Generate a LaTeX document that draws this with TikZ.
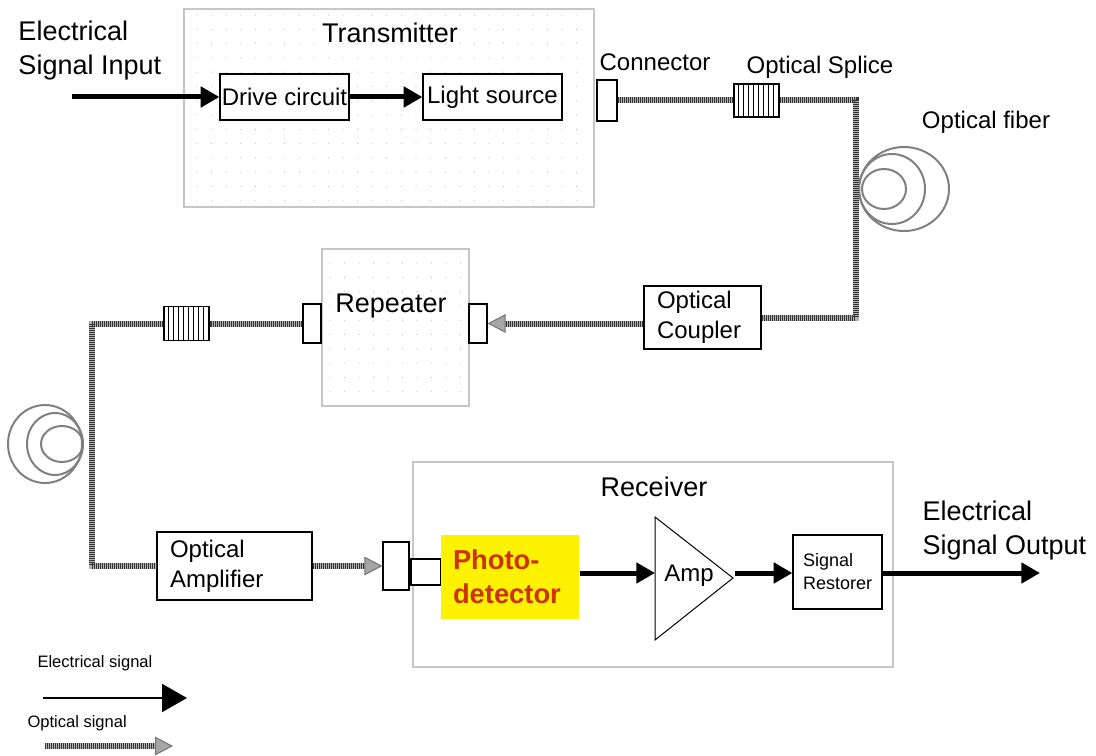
\documentclass[tikz,border=0pt]{standalone}
\usepackage{fontspec}
\setmainfont{Liberation Sans}
\usetikzlibrary{arrows.meta}
\definecolor{pdred}{RGB}{204,51,0}
\tikzset{every picture/.style={line width=0.75pt}}
\tikzset{
  frame/.style={draw=gray!45, line width=1.1pt, inner sep=0},
  blk/.style={draw, fill=white, inner sep=0, line width=0.9pt},
  big/.style={font=\fontsize{20.25}{25.5}\selectfont},
  mid/.style={font=\fontsize{18}{22.5}\selectfont},
  fiber/.style={draw=gray!60, line width=4.5pt, postaction={draw=black!80, line width=4.5pt, dash pattern=on 0.75pt off 0.75pt}},
  optarrow/.style={draw=gray!60, line width=4.5pt, -{Triangle[length=13.5pt,width=14pt,line width=0.75pt,color=black!55,fill=gray!70]}, postaction={draw=black!80, line width=4.5pt, dash pattern=on 0.75pt off 0.75pt, arrows=-, shorten >=13.5pt}},
  elarrow/.style={line width=3.75pt, -{Triangle[length=14pt,width=15pt]}},
  coil/.style={draw=gray, line width=1.5pt},
}

\begin{document}
\begin{tikzpicture}[x=0.75pt,y=0.75pt,yscale=-1,xscale=1]
\useasboundingbox (0,0) rectangle (1096,756);

%Frames
\node[frame, minimum width=307.5pt, minimum height=148.5pt] (tx) at (389,108) {};
\node[frame, minimum width=110.25pt, minimum height=117.75pt] (rep) at (395.5,327.5) {};
\node[frame, minimum width=360pt, minimum height=153.75pt] (rx) at (653,564.5) {};
%Dot grids
\foreach \x in {197,211.6,...,590} \foreach \y in {15,29.3,...,204} \fill[gray!55] (\x,\y) circle (0.6);
\foreach \x in {330,344.5,...,466} \foreach \y in {263,277.3,...,404} \fill[gray!55] (\x,\y) circle (0.6);

%Fiber coils
\draw[coil] (904,189) ellipse [x radius=45, y radius=42];
\draw[coil] (892,189) ellipse [x radius=33, y radius=35];
\draw[coil] (884,189) ellipse [x radius=22, y radius=20];
\draw[coil] (45,444) ellipse [x radius=37, y radius=39];
\draw[coil] (55,444) ellipse [x radius=28, y radius=31];
\draw[coil] (62,444) ellipse [x radius=21, y radius=18];

%Blocks
\node[blk, mid, minimum width=96.75pt, minimum height=34.5pt] (drive) at (284.5,97) {Drive circuit};
\node[blk, mid, minimum width=104.25pt, minimum height=34.5pt] (light) at (492.5,97) {Light source};
\node[blk, minimum width=15pt, minimum height=30.75pt] (conn1) at (607,100.5) {};
\node[blk, minimum width=33.75pt, minimum height=24.75pt] (splice1) at (756.5,100.5) {};
\node[blk, mid, align=left, text width=68.25pt, inner xsep=9.75pt, minimum height=47.25pt] (coupler) at (702.5,317.5) {Optical\\Coupler};
\node[blk, minimum width=13.5pt, minimum height=29.25pt] (repL) at (312,323.5) {};
\node[blk, minimum width=13.5pt, minimum height=29.25pt] (repR) at (478,323.5) {};
\node[blk, minimum width=33.75pt, minimum height=25.5pt] (splice2) at (186.5,323.5) {};
\node[blk, mid, align=left, text width=96.75pt, inner xsep=9.75pt, minimum height=51pt] (ampl) at (234.5,566) {Optical\\Amplifier};
\node[blk, minimum width=19.5pt, minimum height=36pt] (rconn) at (396,566) {};
\node[blk, minimum width=22.5pt, minimum height=19.5pt] (pigtail) at (426,572) {};
\node[fill=yellow, inner sep=0, inner xsep=9pt, text width=85.5pt, align=left, minimum height=63pt, font=\fontsize{20.5}{25.5}\selectfont\bfseries, text=pdred] (photo) at (510,577) {Photo-\\detector};
\node[blk, align=left, text width=51.75pt, inner xsep=7.5pt, minimum height=55.5pt, font=\fontsize{13.5}{17.25}\selectfont] (restorer) at (837.5,572) {Signal\\Restorer};
%Splice stripes
\foreach \i in {1,...,8} \draw ([xshift=\i*3.75pt]splice1.south west) -- ([xshift=\i*3.75pt]splice1.north west);
\foreach \i in {1,...,8} \draw ([xshift=\i*3.75pt]splice2.south west) -- ([xshift=\i*3.75pt]splice2.north west);
%Amp
\draw[fill=white] (655,517) -- (733,578) -- (655,640) -- cycle;
\coordinate (ampin) at (655,573);
\coordinate (ampout) at (735,573);

%Points
\coordinate (inbeg) at (72,97);
\coordinate (outend) at (1040,573);
\coordinate (fibR) at (856,200);
\coordinate (fibL) at (92,440);
\coordinate (lgE1) at (43,698);
\coordinate (lgE2) at (187,698);
\coordinate (lgO1) at (45,746);
\coordinate (lgO2) at (173,746);

%Electrical links
\draw[elarrow] (inbeg) -- (drive.west);
\draw[elarrow] (drive) -- (light);
\draw[elarrow] (photo.east |- ampin) -- (ampin);
\draw[elarrow] (ampout) -- (restorer.west |- ampout);
\draw[elarrow] (restorer.east |- ampout) -- (outend);
%Optical links
\draw[fiber] (conn1) -- (splice1);
\draw[fiber] (splice1.east) -| (fibR) |- (coupler.east);
\draw[optarrow] (coupler.west |- repR.east) -- (repR.east);
\draw[fiber] (repL) -- (splice2);
\draw[fiber] (splice2.west) -| (fibL) |- (ampl.west);
\draw[optarrow] (ampl) -- (rconn);
%Legend
\draw[line width=1.5pt, -{Triangle[length=18.75pt,width=21pt]}] (lgE1) -- (lgE2);
\draw[optarrow] (lgO1) -- (lgO2);

% Text Node
\node[big, anchor=west, align=left, inner sep=0] (inlabel) at (18,51) {Electrical\\Signal Input};
% Text Node
\node[big, inner sep=0] (txlabel) at (390,33) {Transmitter};
% Text Node
\node[mid, inner sep=0] (connlabel) at (655,62) {Connector};
% Text Node
\node[mid, inner sep=0] (splicelabel) at (820,67) {Optical Splice};
% Text Node
\node[mid, inner sep=0] (fiberlabel) at (986,122) {Optical fiber};
% Text Node
\node[big, inner sep=0] (replabel) at (391,306) {Repeater};
% Text Node
\node[big, inner sep=0] (rxlabel) at (654,487) {Receiver};
% Text Node
\node[mid, inner sep=0] (amptext) at (689,576) {Amp};
% Text Node
\node[big, anchor=west, align=left, inner sep=0] (outlabel) at (922,531) {Electrical\\Signal Output};
% Text Node
\node[font=\fontsize{12.4}{15}\selectfont, anchor=west, inner sep=0] (lgEl) at (37,663) {Electrical signal};
% Text Node
\node[font=\fontsize{12.4}{15}\selectfont, anchor=west, inner sep=0] (lgOp) at (27,723) {Optical signal};

\end{tikzpicture}
\end{document}
